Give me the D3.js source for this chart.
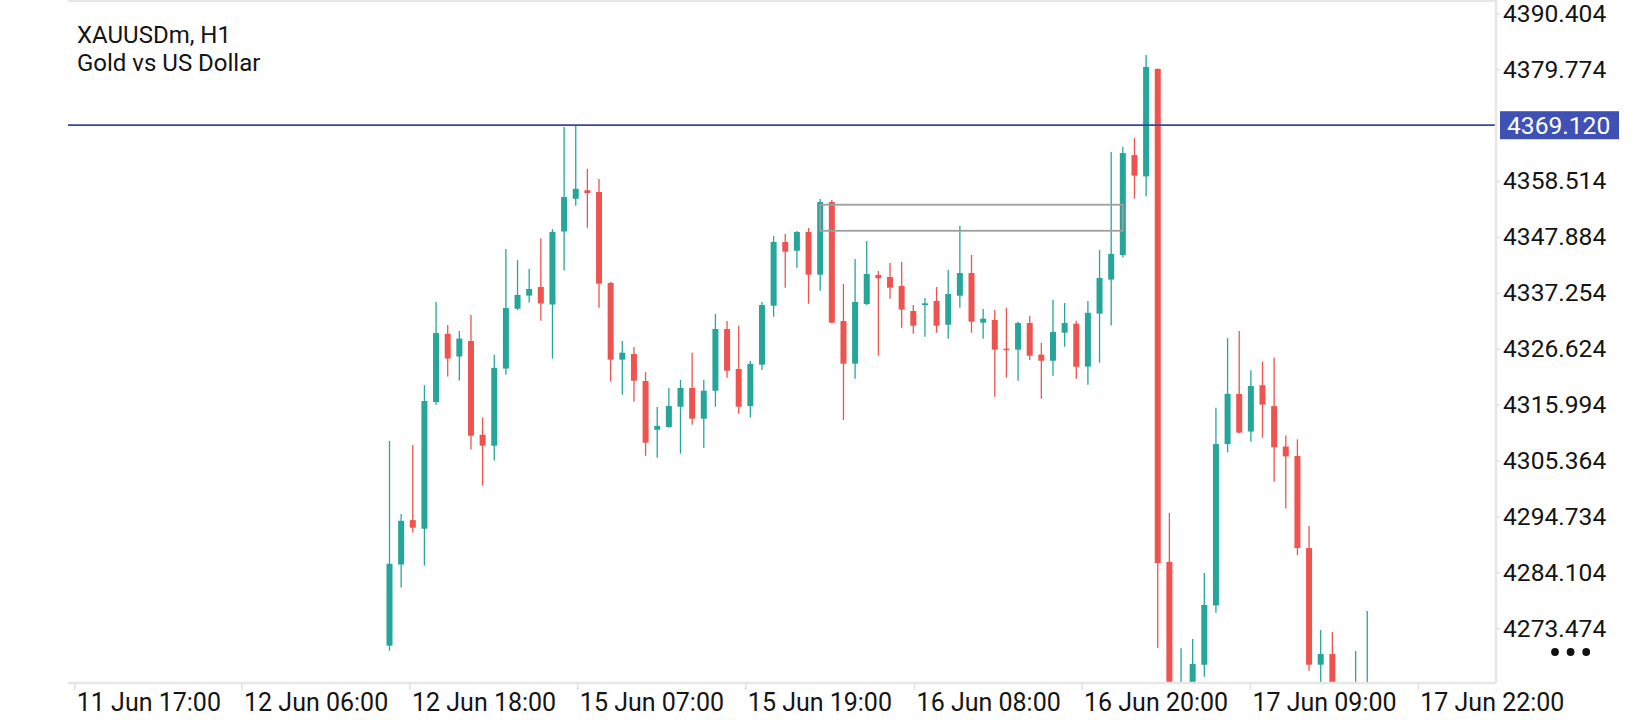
<!DOCTYPE html>
<html>
<head>
<meta charset="utf-8">
<script src="https://cdn.jsdelivr.net/npm/d3@7"></script>
<style>
	html, body { margin: 0; padding: 0; background: #fff; }
	svg text { font-family: Roboto, "Noto Sans", sans-serif; fill: #141414; }
</style>
</head>
<body>
<div id="chart"></div>
<script>
// XAUUSDm H1 bars (bars below the visible floor are estimates)
const opens = [
	4270.15, 4285.59, 4294.03, 4292.40, 4316.49, 4329.46, 4325.14, 4328.09, 4310.27, 4308.18,
	4322.84, 4334.23, 4336.72, 4338.36, 4335.03, 4348.91, 4355.13, 4356.76, 4356.42, 4339.12,
	4324.54, 4325.62, 4320.48, 4311.22, 4311.74, 4315.60, 4319.15, 4313.32, 4318.64, 4330.37,
	4322.77, 4315.73, 4323.58, 4334.80, 4346.92, 4345.26, 4348.81, 4340.70, 4354.52, 4331.89,
	4323.78, 4335.12, 4340.64, 4340.26, 4338.55, 4333.79, 4334.93, 4335.70, 4331.19, 4336.70,
	4341.02, 4331.57, 4332.09, 4326.63, 4326.44, 4331.51, 4325.49, 4324.34, 4329.67, 4331.38,
	4323.22, 4333.30, 4339.77, 4344.42, 4363.44, 4359.39, 4379.83, 4286.08, 4258.00, 4260.00,
	4266.54, 4277.81, 4308.48, 4318.03, 4310.88, 4319.69, 4315.71, 4308.03, 4306.22, 4288.71,
	4266.54, 4268.58, 4260.50, 4257.50, 4259.00
];
const highs = [
	4309.09, 4295.21, 4308.31, 4319.70, 4335.49, 4331.15, 4329.97, 4333.05, 4313.54, 4325.47,
	4345.57, 4343.47, 4341.76, 4347.65, 4349.37, 4368.80, 4369.05, 4360.82, 4358.90, 4339.31,
	4328.09, 4326.95, 4322.19, 4315.54, 4319.15, 4320.67, 4325.87, 4320.67, 4333.23, 4331.89,
	4331.00, 4324.29, 4335.51, 4348.06, 4348.44, 4349.00, 4349.58, 4355.09, 4354.90, 4338.93,
	4343.68, 4347.11, 4341.40, 4342.92, 4343.11, 4334.93, 4336.27, 4338.36, 4341.59, 4349.96,
	4344.45, 4334.17, 4333.98, 4334.42, 4331.76, 4332.90, 4327.77, 4335.89, 4335.31, 4331.95,
	4335.70, 4345.39, 4364.05, 4365.02, 4366.67, 4382.47, 4379.90, 4295.40, 4269.66, 4271.42,
	4283.98, 4315.40, 4328.64, 4329.99, 4322.54, 4324.19, 4324.95, 4310.14, 4309.38, 4292.91,
	4273.14, 4272.76, 4262.50, 4269.14, 4276.75
];
const lows = [
	4269.20, 4281.20, 4291.67, 4285.38, 4315.96, 4321.34, 4320.56, 4307.46, 4300.58, 4305.37,
	4321.66, 4333.96, 4335.41, 4331.95, 4324.75, 4341.50, 4353.82, 4349.62, 4334.42, 4320.35,
	4317.88, 4316.55, 4306.28, 4305.90, 4311.60, 4306.66, 4312.18, 4307.80, 4315.60, 4321.11,
	4314.27, 4313.51, 4322.58, 4332.71, 4338.23, 4342.03, 4335.18, 4337.66, 4331.40, 4313.07,
	4320.92, 4334.93, 4325.29, 4336.14, 4330.62, 4329.48, 4328.91, 4329.67, 4328.53, 4334.42,
	4329.67, 4328.53, 4317.50, 4321.11, 4320.54, 4324.47, 4317.12, 4321.49, 4327.00, 4320.92,
	4319.76, 4323.96, 4331.04, 4343.97, 4355.17, 4355.55, 4269.70, 4257.50, 4254.00, 4257.00,
	4264.26, 4276.44, 4306.91, 4310.50, 4308.94, 4309.68, 4301.33, 4296.22, 4287.36, 4265.40,
	4261.00, 4257.00, 4255.00, 4254.50, 4256.00
];
const closes = [
	4285.73, 4293.90, 4292.59, 4316.68, 4329.59, 4324.75, 4328.55, 4310.08, 4308.18, 4322.98,
	4334.37, 4336.85, 4337.98, 4335.22, 4348.84, 4355.45, 4357.03, 4356.23, 4338.99, 4324.54,
	4325.87, 4320.54, 4308.75, 4311.93, 4315.73, 4319.15, 4313.32, 4318.64, 4330.37, 4322.44,
	4315.60, 4323.72, 4334.93, 4346.92, 4345.07, 4348.81, 4340.70, 4354.52, 4331.57, 4323.78,
	4335.51, 4340.83, 4340.01, 4338.23, 4334.05, 4331.00, 4335.26, 4331.00, 4337.03, 4341.02,
	4331.76, 4332.33, 4326.44, 4326.44, 4331.51, 4325.29, 4324.34, 4329.80, 4331.51, 4323.20,
	4333.45, 4340.07, 4344.65, 4363.82, 4359.54, 4380.21, 4285.86, 4261.00, 4260.50, 4266.67,
	4277.89, 4308.48, 4318.03, 4310.67, 4319.54, 4316.00, 4307.88, 4306.15, 4288.71, 4266.54,
	4268.58, 4260.50, 4258.00, 4259.00, 4262.00
];

// time axis: labels and the bar position (index) they sit at
const timeLabels = ["11 Jun 17:00", "12 Jun 06:00", "12 Jun 18:00", "15 Jun 07:00", "15 Jun 19:00",
	"16 Jun 08:00", "16 Jun 20:00", "17 Jun 09:00", "17 Jun 22:00"];
const timeTickAt = [-27.08, -12.71, 1.72, 16.14, 30.57, 45.07, 59.45, 73.92, 88.34];

const priceTicks = [4390.404, 4379.774, 4358.514, 4347.884, 4337.254, 4326.624,
	4315.994, 4305.364, 4294.734, 4284.104, 4273.474];

const levelPrice = 4369.120;
const zoneBars = [37, 63];
const zonePrices = [4349.05, 4354.00];

const symbolTitle = ["XAUUSDm, H1", "Gold vs US Dollar"];

const up = "#26a69a", down = "#ef5350";

const W = 1640, H = 720;
const frame = {left: 68, top: 1, right: 1496, bottom: 683};

let x = d3.scaleLinear().domain([-27.62, 95.06]).range([frame.left, frame.right]);
let y = d3.scaleLinear().domain([4263.06, 4392.93]).range([frame.bottom, 0]);

let svg = d3.select("#chart")
	.append("svg")
	.attr("width", W)
	.attr("height", H);

svg.append("clipPath")
	.attr("id", "plotClip")
	.append("rect")
	.attr("x", frame.left)
	.attr("y", frame.top)
	.attr("width", frame.right - frame.left)
	.attr("height", frame.bottom - frame.top);

// frame lines
svg.append("line")
	.attr("x1", frame.left).attr("x2", frame.right)
	.attr("y1", frame.top).attr("y2", frame.top)
	.attr("stroke", "#e6e6e6").attr("stroke-width", 2);

const bars = d3.range(opens.length);
let plot = svg.append("g").attr("clip-path", "url(#plotClip)");

// wicks
plot.selectAll(".wick")
	.data(bars)
	.enter().append("line")
	.attr("class", "wick")
	.attr("x1", i => x(i)).attr("x2", i => x(i))
	.attr("y1", i => y(highs[i]))
	.attr("y2", i => y(lows[i]))
	.attr("stroke", i => closes[i] >= opens[i] ? up : down)
	.attr("stroke-width", 1.3);

// bodies
plot.selectAll(".body")
	.data(bars)
	.enter().append("rect")
	.attr("class", "body")
	.attr("x", i => x(i) - 3)
	.attr("width", 6)
	.attr("y", i => y(Math.max(opens[i], closes[i])))
	.attr("height", i => Math.max(1.5, Math.abs(y(opens[i]) - y(closes[i]))))
	.attr("fill", i => closes[i] >= opens[i] ? up : down);

// grey zone rectangle
plot.append("rect")
	.attr("x", x(zoneBars[0]))
	.attr("y", y(zonePrices[1]))
	.attr("width", x(zoneBars[1]) - x(zoneBars[0]))
	.attr("height", y(zonePrices[0]) - y(zonePrices[1]))
	.attr("fill", "none")
	.attr("stroke", "#9e9e9e")
	.attr("stroke-width", 1.8);

// horizontal level
plot.append("line")
	.attr("x1", frame.left).attr("x2", frame.right)
	.attr("y1", y(levelPrice)).attr("y2", y(levelPrice))
	.attr("stroke", "#36469c")
	.attr("stroke-width", 1.7);

// x axis
let xAxis = svg.append("g")
	.attr("class", "xAxis")
	.attr("transform", "translate(0," + frame.bottom + ")")
	.call(d3.axisBottom(x)
		.tickValues(timeTickAt)
		.tickFormat((d, i) => timeLabels[i])
		.tickSize(7)
		.tickPadding(3));
xAxis.select(".domain").remove();
xAxis.selectAll(".tick line").attr("stroke", "#e0e0e0").attr("stroke-width", 1.5);
xAxis.selectAll(".tick text")
	.attr("text-anchor", "start")
	.attr("x", 2)
	.style("font-size", "25px");

// y axis
let yAxis = svg.append("g")
	.attr("class", "yAxis")
	.attr("transform", "translate(" + frame.right + ",0)")
	.call(d3.axisRight(y)
		.tickValues(priceTicks)
		.tickFormat(d3.format(".3f"))
		.tickSize(4)
		.tickPadding(3));
yAxis.select(".domain").remove();
yAxis.selectAll(".tick line").attr("stroke", "#e0e0e0").attr("stroke-width", 1.5);
yAxis.selectAll(".tick text").style("font-size", "24.6px");

svg.append("line")
	.attr("x1", frame.left).attr("x2", frame.right)
	.attr("y1", frame.bottom).attr("y2", frame.bottom)
	.attr("stroke", "#e6e6e6").attr("stroke-width", 2.5);
svg.append("line")
	.attr("x1", frame.right).attr("x2", frame.right)
	.attr("y1", 0).attr("y2", frame.bottom)
	.attr("stroke", "#e6e6e6").attr("stroke-width", 2.5);

// price tag of the level
let tag = svg.append("g")
	.attr("transform", "translate(" + (frame.right + 4) + "," + y(levelPrice) + ")");
tag.append("rect")
	.attr("x", 0).attr("y", -14)
	.attr("width", 119).attr("height", 28)
	.attr("fill", "#3f51b5");
tag.append("text")
	.attr("x", 7).attr("dy", "0.35em")
	.style("font-size", "24.6px")
	.style("fill", "#fff")
	.text(d3.format(".3f")(levelPrice));

// title
svg.append("g")
	.selectAll("text")
	.data(symbolTitle)
	.enter().append("text")
	.attr("x", 77)
	.attr("y", (d, i) => 43 + i * 27.5)
	.style("font-size", "24px")
	.text(d => d);

// menu dots
svg.append("g")
	.selectAll("circle")
	.data([0, 1, 2])
	.enter().append("circle")
	.attr("cx", d => 1555 + d * 15.6)
	.attr("cy", 652)
	.attr("r", 3.9)
	.attr("fill", "#111");
</script>
</body>
</html>
